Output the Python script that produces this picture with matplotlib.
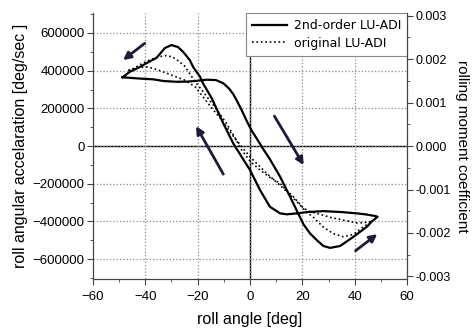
import matplotlib
matplotlib.use("Agg")
import matplotlib.pyplot as plt
from matplotlib.ticker import MultipleLocator

plt.rcParams['font.family'] = ['Liberation Sans', 'DejaVu Sans']

# 2nd-order LU-ADI loop (roll angle [deg], accel [deg/sec^2])
x_2nd = [-48.7, -45.9, -42.0, -39.5, -35.7, -32.5, -30.0, -27.5, -25.5, -23.0,
         -21.7, -19.1, -18.0, -14.6, -10.2, -6.4, -3.2, 0.0, 3.8, 7.6,
         11.5, 14.0, 17.9, 22.0, 28.0, 35.0, 40.8, 44.0, 47.8, 48.7,
         46.5, 44.6, 42.0, 39.5, 37.0, 34.4, 30.6, 28.0, 25.5, 22.9,
         20.4, 15.3, 11.5, 7.6, 5.0, 3.0, 0.5, -1.5, -3.2, -5.0,
         -6.4, -8.0, -10.2, -13.0, -16.6, -20.4, -24.0, -28.0, -33.0, -37.0,
         -42.0, -45.9, -48.7]
y_2nd = [365000, 394000, 420000, 440000, 468000, 520000, 536000, 525000, 499000, 456000,
         419000, 368000, 334000, 253000, 120000, 14000, -57000, -127000, -233000, -322000,
         -357000, -362000, -357000, -350000, -345000, -350000, -357000, -362000, -371000, -375000,
         -400000, -428000, -455000, -481000, -505000, -530000, -540000, -530000, -499000, -463000,
         -415000, -269000, -163000, -70000, -15000, 30000, 85000, 140000, 191000, 240000,
         275000, 305000, 333000, 350000, 352000, 346000, 342000, 341000, 345000, 354000,
         358000, 362000, 365000]

# original LU-ADI loop
x_orig = [-46.5, -44.0, -42.0, -38.9, -35.5, -32.0, -29.5, -27.4, -25.0, -23.6,
          -21.0, -18.0, -15.0, -12.0, -9.0, -6.0, -3.2, 0.0, 3.8, 7.5,
          11.5, 14.0, 16.6, 20.4, 23.0, 26.8, 30.6, 35.7, 40.8, 44.0,
          46.5, 43.3, 39.5, 35.7, 31.9, 28.0, 24.2, 21.7, 17.9, 12.7,
          6.4, 0.0, -6.0, -11.5, -15.0, -18.0, -21.0, -25.0, -30.0, -35.0,
          -39.0, -42.7, -46.5]
y_orig = [400000, 415000, 432000, 453000, 472000, 480000, 472000, 452000, 425000, 396000,
          342000, 290000, 235000, 180000, 120000, 50000, -21000, -80000, -127000, -165000,
          -198000, -235000, -269000, -330000, -348000, -362000, -378000, -393000, -408000, -405000,
          -400000, -428000, -468000, -481000, -465000, -430000, -378000, -352000, -295000, -224000,
          -145000, -57000, 45000, 150000, 208000, 262000, 315000, 350000, 377000, 403000,
          420000, 416000, 400000]

# arrows: (tail x, tail y, head x, head y)
arrows = [(-40.2, 545000, -48.5, 456000),
          (-10.2, -149000, -20.6, 106000),
          (9.3, 159000, 20.5, -101000),
          (40.3, -555000, 48.6, -467000)]

fig = plt.figure(figsize=(4.74, 3.29), dpi=100)
ax = fig.add_axes([0.196, 0.152, 0.663, 0.808])

ax.plot(x_2nd, y_2nd, color='black', lw=1.6, label='2nd-order LU-ADI')
ax.plot(x_orig, y_orig, color='black', lw=1.2, ls=':', label='original LU-ADI')

for tx, ty, hx, hy in arrows:
    ax.annotate('', xy=(hx, hy), xytext=(tx, ty),
                arrowprops=dict(arrowstyle='-|>', color='#1c1c3a', lw=2,
                                mutation_scale=11, shrinkA=0, shrinkB=0))

ax.axhline(0, color='black', lw=1.0, zorder=1)
ax.axvline(0, color='black', lw=1.0, zorder=1)

ax.set_xlim(-60, 60)
ax.set_ylim(-705000, 705000)
ax.xaxis.set_minor_locator(MultipleLocator(10))
ax.yaxis.set_minor_locator(MultipleLocator(100000))
ax.grid(True, which='major', color='#888888', ls=':', lw=0.9)
ax.tick_params(which='both', direction='out', labelsize=9.5, color='#444444', pad=2)
ax.tick_params(axis='x', which='major', pad=5)
ax.tick_params(which='major', length=4)
ax.tick_params(which='minor', length=2.5)
ax.spines['top'].set_visible(False)
for s in ['left', 'bottom', 'right']:
    ax.spines[s].set_color('#444444')
ax.set_xticks([-60, -40, -20, 0, 20, 40, 60])
ax.set_xticklabels(['\u221260', '\u221240', '\u221220', '0', '20', '40', '60'])
ax.set_yticks([-600000, -400000, -200000, 0, 200000, 400000, 600000])
ax.set_yticklabels(['\u2212600000', '\u2212400000', '\u2212200000', '0',
                    '200000', '400000', '600000'])

ax.set_xlabel('roll angle [deg]', fontsize=11.5, labelpad=6)
ax.set_ylabel('roll angular accelaration [deg/sec ]', fontsize=11.5, labelpad=3)

ax2 = ax.twinx()
ax2.set_ylim(-0.00306, 0.00306)
ax2.yaxis.set_minor_locator(MultipleLocator(0.0005))
ax2.set_yticks([-0.003, -0.002, -0.001, 0.0, 0.001, 0.002, 0.003])
ax2.set_yticklabels(['-0.003', '-0.002', '-0.001', '0.000',
                     '0.001', '0.002', '0.003'])
ax2.tick_params(which='both', direction='out', labelsize=9, color='#444444', pad=2)
ax2.tick_params(which='major', length=4)
ax2.tick_params(which='minor', length=2.5)
ax2.spines['top'].set_visible(False)
for s in ['left', 'bottom', 'right']:
    ax2.spines[s].set_color('#444444')
ax2.set_ylabel('rolling moment coefficient', fontsize=11, rotation=270, va='center')
ax2.yaxis.set_label_coords(1.175, 0.5)

leg = ax.legend(loc='upper right', fontsize=9, fancybox=False, framealpha=1,
                edgecolor='#888888', borderaxespad=0, handlelength=2.8,
                borderpad=0.5, labelspacing=0.35, handletextpad=0.5,
                prop={'family': 'DejaVu Sans', 'size': 9})
leg.get_frame().set_linewidth(0.8)

fig.savefig('out.png', dpi=100)
